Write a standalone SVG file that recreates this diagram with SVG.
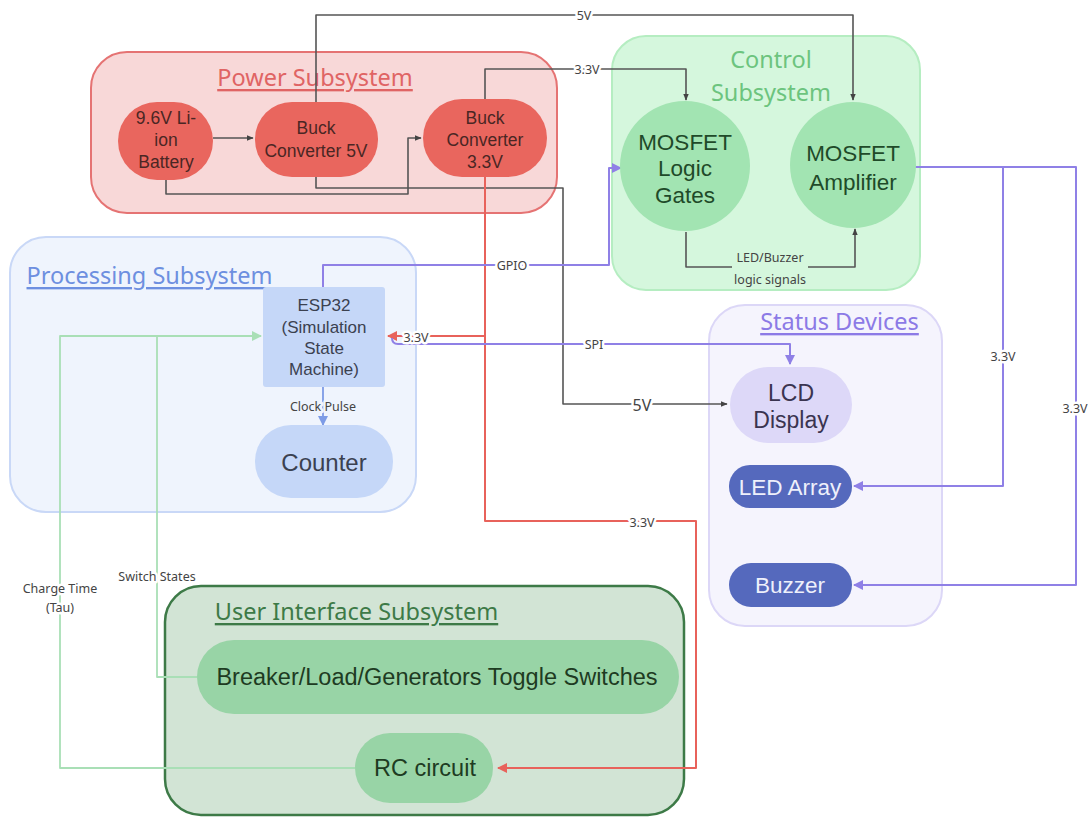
<svg xmlns="http://www.w3.org/2000/svg" width="1089" height="820" viewBox="0 0 1089 820">
<defs>
<style>
text{font-family:"Liberation Sans",Arial,sans-serif;text-anchor:middle;dominant-baseline:central}
.title{font-family:"Noto Sans","Open Sans",sans-serif;font-size:23.5px;text-decoration:underline}
.lbl{font-family:"Noto Sans","Open Sans",sans-serif;font-size:12.5px;fill:#444;stroke:#fff;stroke-width:5px;paint-order:stroke;stroke-linejoin:round}
.lblc{font-family:"Noto Sans","Open Sans",sans-serif;font-size:12.5px;fill:#444}
.ln{fill:none;stroke-width:1.6;stroke-linejoin:round}
.gray{stroke:#555}
.red{stroke:#e8625b;stroke-width:2}
.pur{stroke:#8f80e6;stroke-width:2}
.grn{stroke:#a9dfb6;stroke-width:1.8}
.blu{stroke:#7d9be6;stroke-width:1.8}
.pw{fill:#e9665e}
.pwt{font-size:17.5px;fill:#4a2624}
.ct{fill:#a2e4b2}
.ctt{font-size:22.5px;fill:#1f4a29}
.pr{fill:#c5d7f8}
.prt{fill:#3b4150}
.st{fill:#5569bd}
.stt{font-size:22.5px;fill:#eef0fb}
.ui{fill:#98d4a6}
.uit{font-size:23.5px;fill:#1e3b22}
</style>
<marker id="aG" viewBox="0 0 10 10" refX="9" refY="5" markerWidth="7" markerHeight="7" orient="auto" markerUnits="userSpaceOnUse"><path d="M0,1 L10,5 L0,9 z" fill="#444"/></marker>
<marker id="aR" viewBox="0 0 10 10" refX="9" refY="5" markerWidth="10" markerHeight="10" orient="auto" markerUnits="userSpaceOnUse"><path d="M0,0 L10,5 L0,10 z" fill="#e8625b"/></marker>
<marker id="aP" viewBox="0 0 10 10" refX="9" refY="5" markerWidth="10" markerHeight="10" orient="auto" markerUnits="userSpaceOnUse"><path d="M0,0 L10,5 L0,10 z" fill="#8f80e6"/></marker>
<marker id="aGr" viewBox="0 0 10 10" refX="9" refY="5" markerWidth="10" markerHeight="10" orient="auto" markerUnits="userSpaceOnUse"><path d="M0,0 L10,5 L0,10 z" fill="#a9dfb6"/></marker>
<marker id="aB" viewBox="0 0 10 10" refX="9" refY="5" markerWidth="10" markerHeight="10" orient="auto" markerUnits="userSpaceOnUse"><path d="M0,0 L10,5 L0,10 z" fill="#7d9be6"/></marker>
</defs>
<rect width="1089" height="820" fill="#fff"/>

<!-- containers -->
<g id="power-subsystem">
<rect x="91" y="52" width="466" height="161" rx="36" fill="#f8d8d8" stroke="#e57373" stroke-width="2"/>
<text class="title" x="315" y="77" fill="#e06464">Power Subsystem</text>
</g>
<g id="control-subsystem">
<rect x="612" y="36" width="308" height="254" rx="34" fill="#d5f7dd" stroke="#b5edc1" stroke-width="2"/>
<text x="771" y="59" style="font-family:'Noto Sans',sans-serif;font-size:23.5px" fill="#6cc47e">Control</text>
<text x="771" y="92" style="font-family:'Noto Sans',sans-serif;font-size:23.5px" fill="#6cc47e">Subsystem</text>
</g>
<g id="processing-subsystem">
<rect x="10" y="237" width="406" height="275" rx="36" fill="#eff4fd" stroke="#c9d8f7" stroke-width="2"/>
<text class="title" x="149.5" y="275" fill="#6d8fe0">Processing Subsystem</text>
</g>
<g id="status-devices">
<rect x="709" y="305" width="233" height="321" rx="36" fill="#f5f4fd" stroke="#dcd7f7" stroke-width="2"/>
<text class="title" x="839.5" y="321" fill="#8c7ae6">Status Devices</text>
</g>
<g id="ui-subsystem">
<rect x="165" y="586" width="519" height="229" rx="36" fill="#d2e4d5" stroke="#3d7a47" stroke-width="2.5"/>
<text class="title" x="356.5" y="611" fill="#3d7a47">User Interface Subsystem</text>
</g>

<!-- connectors -->
<g id="connectors">
<path class="ln gray" d="M213,138 H253" marker-end="url(#aG)"/>
<path class="ln gray" d="M166,180 V194 H408 V138 H421" marker-end="url(#aG)"/>
<path class="ln gray" d="M316,102 V15 H853 V100" marker-end="url(#aG)"/>
<path class="ln gray" d="M485,99 V69 H686 V100" marker-end="url(#aG)"/>
<path class="ln gray" d="M316,177 V188 H563 V404 H727" marker-end="url(#aG)"/>
<path class="ln gray" d="M686,232 V267 H855 V229" marker-end="url(#aG)"/>
<path class="ln red" d="M485,177 V521 H696 V768 H498" marker-end="url(#aR)"/>
<path class="ln red" d="M485,336 H388" marker-end="url(#aR)"/>
<path class="ln pur" d="M323,287 V265 H609 V168 H621" marker-end="url(#aP)"/>
<path class="ln pur" d="M392,338 Q392,344 398,344 H790 V364" marker-end="url(#aP)"/>
<path class="ln pur" d="M915,167 H1076 V585 H854" marker-end="url(#aP)"/>
<path class="ln pur" d="M1003,167 V486 H854" marker-end="url(#aP)"/>
<path class="ln blu" d="M323,387 V425" marker-end="url(#aB)"/>
<path class="ln grn" d="M355,768 H60 V336 H261" marker-end="url(#aGr)"/>
<path class="ln grn" d="M197,677 H157 V336"/>
<text class="lbl" x="584" y="15">5V</text>
<text class="lbl" x="587" y="69">3.3V</text>
<rect x="732" y="249" width="76" height="38" fill="#d5f7dd"/>
<text class="lblc" x="770" y="257">LED/Buzzer</text>
<text class="lblc" x="770" y="279">logic signals</text>
<text class="lbl" x="512" y="265">GPIO</text>
<text class="lbl" x="416" y="337">3.3V</text>
<text class="lbl" x="594" y="344">SPI</text>
<text class="lbl" x="642" y="405" style="font-size:16px">5V</text>
<text class="lbl" x="642" y="522">3.3V</text>
<text class="lbl" x="1003" y="356">3.3V</text>
<text class="lbl" x="1075" y="408">3.3V</text>
<text class="lbl" x="323" y="406" style="stroke:#eff4fd">Clock Pulse</text>
<text class="lbl" x="157" y="576">Switch States</text>
<text class="lbl" x="60" y="588">Charge Time</text>
<text class="lbl" x="60" y="607">(Tau)</text>
</g>

<!-- nodes -->
<g id="battery">
<rect class="pw" x="118" y="102" width="95" height="78" rx="39"/>
<text class="pwt" x="166" y="118">9.6V Li-</text>
<text class="pwt" x="166" y="140">ion</text>
<text class="pwt" x="166" y="162">Battery</text>
</g>
<g id="buck-5v">
<rect class="pw" x="255" y="102" width="123" height="75" rx="37"/>
<text class="pwt" x="316" y="128">Buck</text>
<text class="pwt" x="316" y="151">Converter 5V</text>
</g>
<g id="buck-3v3">
<rect class="pw" x="423" y="99" width="124" height="78" rx="39"/>
<text class="pwt" x="485" y="118">Buck</text>
<text class="pwt" x="485" y="140">Converter</text>
<text class="pwt" x="485" y="162">3.3V</text>
</g>
<g id="mosfet-logic">
<circle class="ct" cx="685" cy="166" r="65"/>
<text class="ctt" x="685" y="142">MOSFET</text>
<text class="ctt" x="685" y="168">Logic</text>
<text class="ctt" x="685" y="195">Gates</text>
</g>
<g id="mosfet-amp">
<circle class="ct" cx="853" cy="165" r="63"/>
<text class="ctt" x="853" y="153">MOSFET</text>
<text class="ctt" x="853" y="182">Amplifier</text>
</g>
<g id="esp32">
<rect class="pr" x="263" y="287" width="122" height="100" rx="3"/>
<text class="prt" x="324" y="305" style="font-size:17px">ESP32</text>
<text class="prt" x="324" y="327" style="font-size:17px">(Simulation</text>
<text class="prt" x="324" y="348" style="font-size:17px">State</text>
<text class="prt" x="324" y="369" style="font-size:17px">Machine)</text>
</g>
<g id="counter">
<rect class="pr" x="255" y="425" width="138" height="73" rx="36"/>
<text class="prt" x="324" y="462" style="font-size:24px">Counter</text>
</g>
<g id="lcd">
<rect x="730" y="367" width="122" height="76" rx="38" fill="#ddd8f8"/>
<text x="791" y="393" style="font-size:23px" fill="#3a3450">LCD</text>
<text x="791" y="420" style="font-size:23px" fill="#3a3450">Display</text>
</g>
<g id="led-array">
<rect class="st" x="729" y="465" width="123" height="43" rx="21"/>
<text class="stt" x="790" y="487">LED Array</text>
</g>
<g id="buzzer">
<rect class="st" x="729" y="563" width="123" height="44" rx="22"/>
<text class="stt" x="790" y="585">Buzzer</text>
</g>
<g id="toggle-switches">
<rect class="ui" x="197" y="640" width="482" height="74" rx="37"/>
<text class="uit" x="437" y="677">Breaker/Load/Generators Toggle Switches</text>
</g>
<g id="rc-circuit">
<rect class="ui" x="355" y="733" width="138" height="70" rx="35"/>
<text class="uit" x="425" y="768">RC circuit</text>
</g>
</svg>
